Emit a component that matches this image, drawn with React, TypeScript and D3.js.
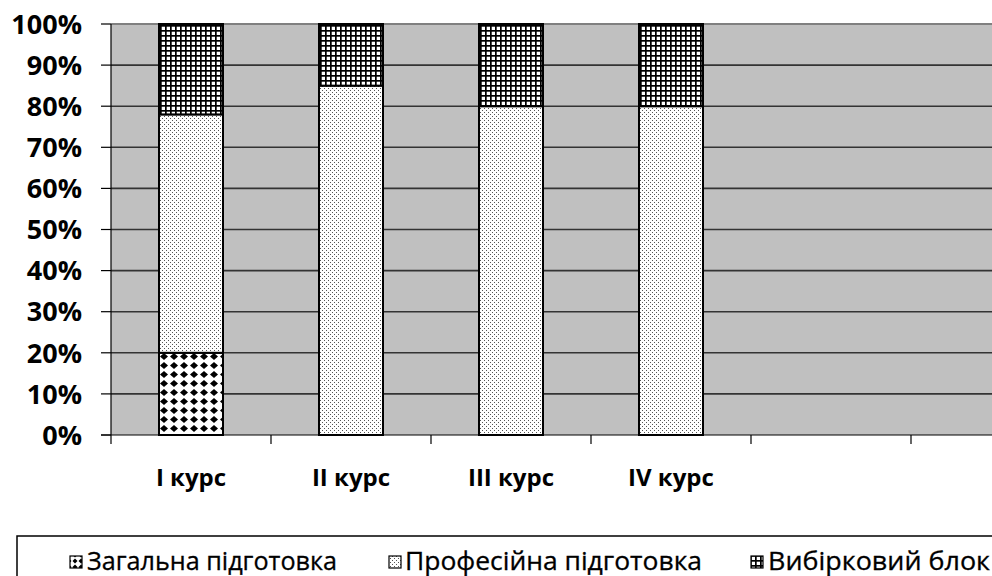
import React from "react";
import * as d3 from "d3";

const categories = ["I курс", "II курс", "III курс", "IV курс", "", " "];
const seriesNames = ["Загальна підготовка", "Професійна підготовка", "Вибірковий блок"];
const zagalna = [20, 0, 0, 0, 0, 0];
const profesiina = [58, 85, 80, 80, 0, 0];
const vybirkovyi = [22, 15, 20, 20, 0, 0];
const yTicks = [0, 10, 20, 30, 40, 50, 60, 70, 80, 90, 100];

const W = 992;
const H = 576;
const FONT = "'Open Sans', 'DejaVu Sans', sans-serif";

export default function App() {
  const left = 111;
  const top = 24;
  const bottom = 435;
  const x = d3
    .scaleBand<string>()
    .domain(categories)
    .range([left, left + 160 * categories.length])
    .paddingInner(0.6)
    .paddingOuter(0.3);
  const y = d3.scaleLinear().domain([0, 100]).range([bottom, top]);

  const rows = categories.map((c, i) => ({
    cat: c,
    zag: zagalna[i],
    prof: profesiina[i],
    vib: vybirkovyi[i],
  }));
  const stack = d3.stack<any>().keys(["zag", "prof", "vib"]);
  const layers = stack(rows);
  const patIds = ["pZag", "pProf", "pVib"];

  const step = x.step();
  const boundaries = d3.range(categories.length + 1).map((i) => left + i * step);

  const legendItems = [
    { x: 70, tx: 87, len: 250 },
    { x: 389, tx: 405, len: 297 },
    { x: 751, tx: 768, len: 222 },
  ];

  return (
    <svg
      width={W}
      height={H}
      style={{ position: "absolute", left: 0, top: 0, background: "#fff" }}
    >
      <defs>
        <pattern id="pVib" patternUnits="userSpaceOnUse" width={5} height={5}>
          <rect width={5} height={5} fill="#fff" />
          <rect x={0} y={0} width={5} height={1.7} fill="#000" />
          <rect x={0} y={0} width={1.7} height={5} fill="#000" />
        </pattern>
        <pattern id="pProf" patternUnits="userSpaceOnUse" width={4} height={4}>
          <rect width={4} height={4} fill="#fff" />
          <rect x={0} y={0} width={1} height={1} fill="#555" />
          <rect x={2} y={2} width={1} height={1} fill="#555" />
        </pattern>
        <pattern id="pZag" patternUnits="userSpaceOnUse" width={10} height={9} x={159} y={352}>
          <rect width={10} height={9} fill="#fff" />
          <polygon points="5,1 9,4.5 5,8 1,4.5" fill="#000" />
        </pattern>
        <pattern id="pZagL" patternUnits="userSpaceOnUse" width={6} height={6}>
          <rect width={6} height={6} fill="#fff" />
          <polygon points="3,0.5 5.5,3 3,5.5 0.5,3" fill="#000" />
        </pattern>
      </defs>

      {/* plot background */}
      <rect x={left} y={top} width={W - left} height={bottom - top} fill="#c0c0c0" />

      {/* gridlines */}
      {yTicks
        .filter((t) => t > 0 && t < 100)
        .map((t) => (
          <line key={t} x1={left} x2={W} y1={y(t)} y2={y(t)} stroke="#333" strokeWidth={1.6} />
        ))}
      <line x1={left} x2={W} y1={y(100)} y2={y(100)} stroke="#808080" strokeWidth={2} />

      {/* bars */}
      {layers.map((layer, li) =>
        layer.map((d, i) => {
          const h = y(d[0]) - y(d[1]);
          if (h <= 0) return null;
          return (
            <rect
              key={`${li}-${i}`}
              x={x(categories[i])}
              y={y(d[1])}
              width={x.bandwidth()}
              height={h}
              fill={`url(#${patIds[li]})`}
              stroke="#000"
              strokeWidth={2}
            />
          );
        })
      )}

      {/* axes */}
      <line x1={left} x2={left} y1={top} y2={bottom} stroke="#000" strokeWidth={1.2} />
      {yTicks.map((t) => (
        <line key={t} x1={101} x2={left} y1={y(t)} y2={y(t)} stroke="#000" strokeWidth={1.2} />
      ))}
      <line x1={101} x2={W} y1={bottom} y2={bottom} stroke="#000" strokeWidth={1.2} />
      {boundaries.map((b, i) => (
        <line key={i} x1={b} x2={b} y1={bottom} y2={bottom + 9} stroke="#000" strokeWidth={1.2} />
      ))}

      {/* y labels */}
      {yTicks.map((t) => (
        <text
          key={t}
          x={82}
          y={y(t)}
          dy="0.36em"
          textAnchor="end"
          fontFamily={FONT}
          fontWeight="bold"
          fontSize={27}
          fill="#000"
        >
          {t}%
        </text>
      ))}

      {/* x labels */}
      {categories.map((c) =>
        c.trim() ? (
          <text
            key={c}
            x={(x(c) as number) + x.bandwidth() / 2}
            y={486}
            textAnchor="middle"
            fontFamily={FONT}
            fontWeight="bold"
            fontSize={24}
            fill="#000"
          >
            {c}
          </text>
        ) : null
      )}

      {/* legend */}
      <rect x={17} y={536} width={W} height={H} fill="#fff" stroke="#000" strokeWidth={1.5} />
      {seriesNames.map((name, i) => (
        <g key={name}>
          <rect
            x={legendItems[i].x}
            y={556}
            width={12}
            height={12}
            fill={`url(#${i === 0 ? "pZagL" : patIds[i]})`}
            stroke="#000"
            strokeWidth={1.2}
          />
          <text
            x={legendItems[i].tx}
            y={570}
            fontFamily={FONT}
            fontSize={25}
            fill="#000"
            stroke="#000"
            strokeWidth={0.3}
            textLength={legendItems[i].len}
            lengthAdjust="spacingAndGlyphs"
          >
            {name}
          </text>
        </g>
      ))}
    </svg>
  );
}
